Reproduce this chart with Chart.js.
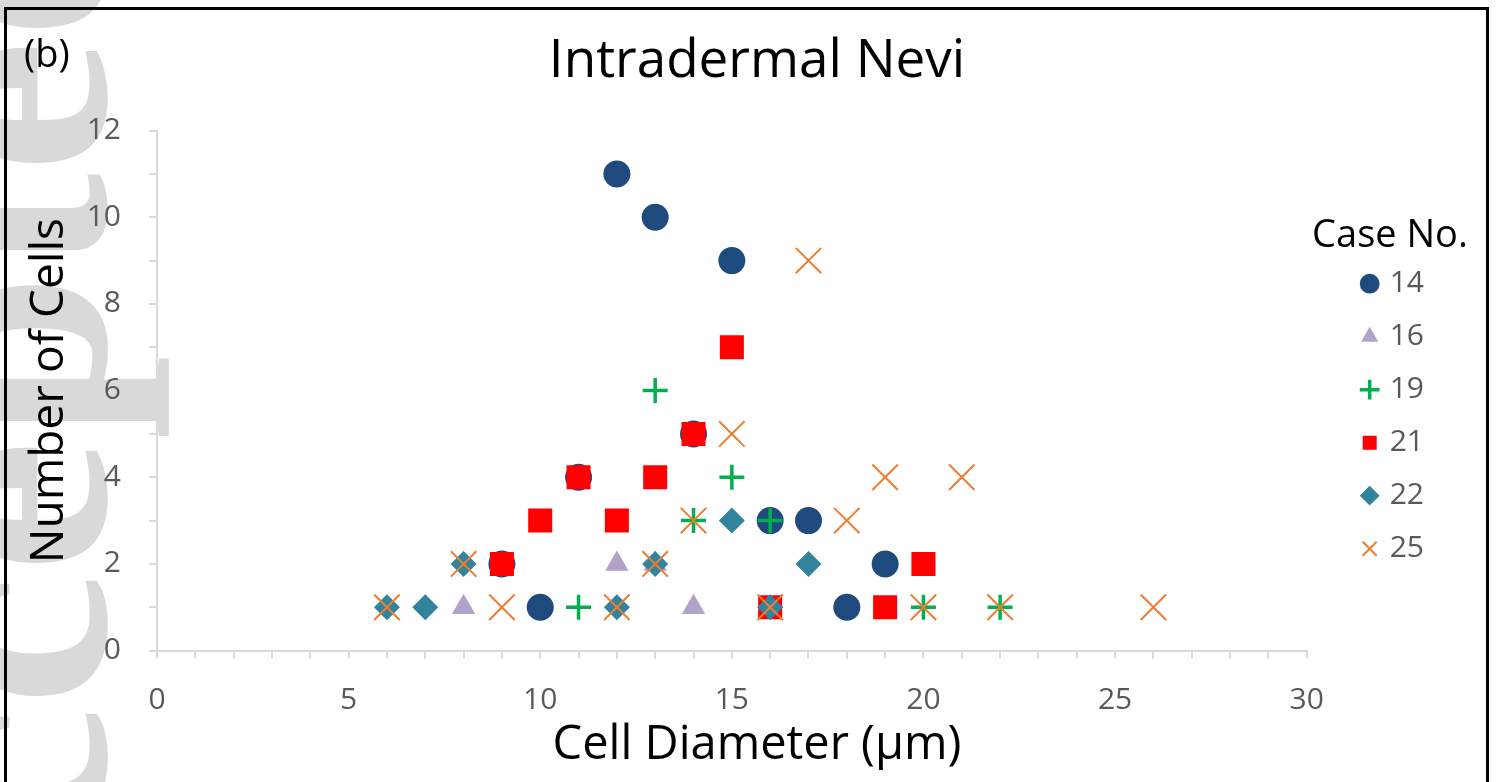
<!DOCTYPE html>
<html>
<head>
<meta charset="utf-8">
<script src="https://cdn.jsdelivr.net/npm/chart.js@4.4.0/dist/chart.umd.min.js"></script>
<style>
html,body{margin:0;padding:0;background:#fff;}
#wrap{width:1499px;height:782px;position:relative;overflow:hidden;}
</style>
</head>
<body>
<div id="wrap"><canvas id="c" width="1499" height="782"></canvas></div>
<script>
// ---- text ----
const chartTitle = 'Intradermal Nevi';
const xTitle = 'Cell Diameter (µm)';
const yTitle = 'Number of Cells';
const legendTitle = 'Case No.';
const panelLabel = '(b)';
const watermarkText = 'Accepted';

// ---- series (cell diameter in µm, number of cells) ----
const caseNames = ['14', '16', '19', '21', '22', '25'];
const case14X = [9, 10, 11, 12, 13, 14, 15, 16, 17, 18, 19];
const case14Y = [2, 1, 4, 11, 10, 5, 9, 3, 3, 1, 2];
const case16X = [8, 12, 13, 14];
const case16Y = [1, 2, 2, 1];
const case19X = [11, 13, 14, 15, 16, 20, 22];
const case19Y = [1, 6, 3, 4, 3, 1, 1];
const case21X = [9, 10, 11, 12, 13, 14, 15, 16, 19, 20];
const case21Y = [2, 3, 4, 3, 4, 5, 7, 1, 1, 2];
const case22X = [6, 7, 8, 12, 13, 15, 16, 17];
const case22Y = [1, 1, 2, 1, 2, 3, 1, 2];
const case25X = [6, 8, 9, 12, 13, 14, 15, 16, 17, 18, 19, 20, 21, 22, 26];
const case25Y = [1, 2, 1, 1, 2, 3, 5, 1, 9, 3, 4, 1, 4, 1, 1];

// ---- tick labels ----
const xTickLabels = ['0', '5', '10', '15', '20', '25', '30'];
const yTickLabels = ['0', '2', '4', '6', '8', '10', '12'];

const seriesX = [case14X, case16X, case19X, case21X, case22X, case25X];
const seriesY = [case14Y, case16Y, case19Y, case21Y, case22Y, case25Y];

const markerStyles = [
  {pointStyle: 'circle',   radius: 13.5, color: '#1f4a7d', bw: 0},
  {pointStyle: 'triangle', radius: 13.5, color: '#b3a2c7', bw: 0},
  {pointStyle: 'cross',    radius: 12.5, color: '#00b050', bw: 3.5},
  {pointStyle: 'rect',     radius: 17,   color: '#ff0000', bw: 0},
  {pointStyle: 'rectRot',  radius: 13,   color: '#31849b', bw: 0},
  {pointStyle: 'crossRot', radius: 18,   color: '#ed7d31', bw: 2}
];

const datasets = caseNames.map((name, i) => ({
  label: name,
  data: seriesX[i].map((x, j) => ({x: x, y: seriesY[i][j]})),
  pointStyle: markerStyles[i].pointStyle,
  pointRadius: markerStyles[i].radius,
  pointHoverRadius: markerStyles[i].radius,
  backgroundColor: markerStyles[i].color,
  borderColor: markerStyles[i].color,
  pointBorderWidth: markerStyles[i].bw,
  borderWidth: markerStyles[i].bw,
  showLine: false,
  order: caseNames.length - i
}));

const FONT = '"Open Sans"';

const backgroundPlugin = {
  id: 'backgroundWatermark',
  beforeDraw(chart) {
    const ctx = chart.ctx;
    ctx.save();
    ctx.fillStyle = '#ffffff';
    ctx.fillRect(0, 0, chart.width, chart.height);
    ctx.font = 'bold 300px "Liberation Serif"';
    ctx.fillStyle = '#d9d9d9';
    const pre = ctx.measureText('Acce').width;
    ctx.translate(105, 440 + pre);
    ctx.rotate(-Math.PI / 2);
    ctx.textBaseline = 'alphabetic';
    ctx.textAlign = 'left';
    ctx.fillText(watermarkText, 0, 0);
    ctx.restore();
  }
};

const framePlugin = {
  id: 'frameAndLabels',
  afterDraw(chart) {
    const ctx = chart.ctx;
    ctx.save();
    ctx.strokeStyle = '#000000';
    ctx.lineWidth = 3;
    ctx.beginPath();
    ctx.moveTo(5.5, 800);
    ctx.lineTo(5.5, 8.5);
    ctx.lineTo(1487.5, 8.5);
    ctx.lineTo(1487.5, 800);
    ctx.stroke();
    ctx.fillStyle = '#000000';
    ctx.textBaseline = 'middle';
    ctx.textAlign = 'left';
    ctx.font = '38px ' + FONT;
    ctx.fillText(panelLabel, 24, 56);
    // legend heading, centred above the legend entries
    ctx.textAlign = 'center';
    ctx.font = '38px ' + FONT;
    ctx.fillText(legendTitle, 1390, 236);
    ctx.restore();
  }
};

new Chart(document.getElementById('c'), {
  type: 'scatter',
  data: {datasets: datasets},
  plugins: [backgroundPlugin, framePlugin],
  options: {
    responsive: false,
    animation: false,
    devicePixelRatio: 1,
    layout: {padding: {left: 15, right: 0, top: 0, bottom: 0}},
    scales: {
      x: {
        type: 'linear',
        min: 0, max: 30,
        position: 'bottom',
        grid: {display: true, drawOnChartArea: false, drawTicks: true, tickLength: 8, color: '#d9d9d9', lineWidth: 2},
        border: {display: true, color: '#d9d9d9', width: 2},
        ticks: {
          stepSize: 1, autoSkip: false, maxRotation: 0, padding: 24,
          color: '#595959', font: {family: FONT, size: 30},
          callback: (v) => xTickLabels.includes(String(v)) ? String(v) : ''
        },
        title: {display: false}
      },
      y: {
        type: 'linear',
        min: 0, max: 12,
        position: 'left',
        grid: {display: true, drawOnChartArea: false, drawTicks: true, tickLength: 8, color: '#d9d9d9', lineWidth: 2},
        border: {display: true, color: '#d9d9d9', width: 2},
        ticks: {
          stepSize: 1, autoSkip: false, padding: 28,
          color: '#595959', font: {family: FONT, size: 30},
          callback: (v) => yTickLabels.includes(String(v)) ? String(v) : ''
        },
        title: {display: true, text: yTitle, color: '#000000', font: {family: FONT, size: 46}, padding: {top: 7, bottom: 0}},
        afterFit: (scale) => { scale.width = 142; }
      },
      gapRight: {
        type: 'linear', position: 'right', weight: 0,
        grid: {display: false, drawTicks: false}, border: {display: false},
        ticks: {display: false}, title: {display: false},
        afterFit: (scale) => { scale.width = 35; }
      },
      edgeRight: {
        type: 'linear', position: 'right', weight: 2000,
        grid: {display: false, drawTicks: false}, border: {display: false},
        ticks: {display: false}, title: {display: false},
        afterFit: (scale) => { scale.width = 65; }
      }
    },
    plugins: {
      tooltip: {enabled: false},
      subtitle: {
        display: true, position: 'top', text: chartTitle, color: '#000000',
        font: {family: FONT, size: 53, weight: 'normal'},
        padding: {top: 30, bottom: 37}
      },
      title: {
        display: true, position: 'bottom', text: xTitle, color: '#000000',
        font: {family: FONT, size: 47, weight: 'normal'},
        padding: {top: -25, bottom: 8}
      },
      legend: {
        display: true, position: 'right', align: 'center',
        labels: {
          usePointStyle: true, boxWidth: 10, boxHeight: 14, padding: 23,
          color: '#595959', font: {family: FONT, size: 30},
          sort: (a, b) => a.datasetIndex - b.datasetIndex
        },
        title: {
          display: true, text: '\u00a0', color: '#000000',
          font: {family: FONT, size: 37}, padding: {top: 6, bottom: 0}
        }
      }
    }
  }
});
</script>
</body>
</html>
